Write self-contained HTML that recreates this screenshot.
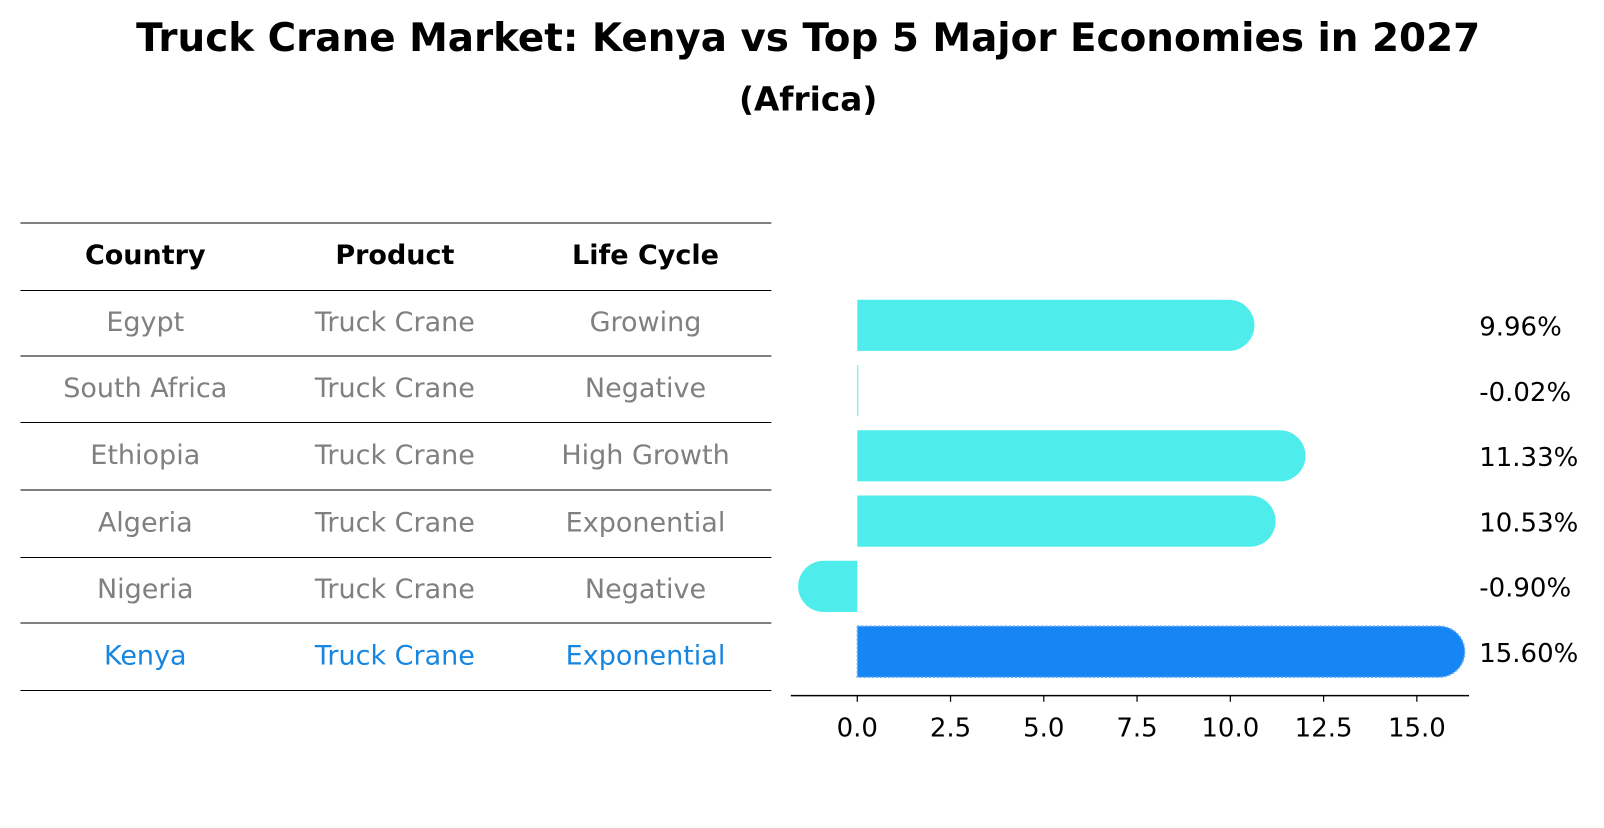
<!DOCTYPE html>
<html><head><meta charset="utf-8"><style>
body{margin:0;background:#fff}
svg text{font-family:"DejaVu Sans","Liberation Sans",sans-serif}
</style></head><body>
<svg width="1604" height="823" viewBox="0 0 1604 823" xmlns="http://www.w3.org/2000/svg">
<g transform="scale(1.023)">
<text x="790" y="50" text-anchor="middle" font-size="38" font-weight="bold">Truck Crane Market: Kenya vs Top 5 Major Economies in 2027</text>
<text x="790" y="108" text-anchor="middle" font-size="32" font-weight="bold">(Africa)</text>
<g id="table"></g>
<g id="bars"></g>
</g>
</svg>
<script>
const countries=["Egypt","South Africa","Ethiopia","Algeria","Nigeria","Kenya"];
const products=["Truck Crane","Truck Crane","Truck Crane","Truck Crane","Truck Crane","Truck Crane"];
const lifeCycles=["Growing","Negative","High Growth","Exponential","Negative","Exponential"];
const values=[9.96,-0.02,11.33,10.53,-0.90,15.60];
const valueLabels=["9.96%","-0.02%","11.33%","10.53%","-0.90%","15.60%"];
const ticks=[0,2.5,5,7.5,10,12.5,15];
const tickLabels=["0.0","2.5","5.0","7.5","10.0","12.5","15.0"];

const NS="http://www.w3.org/2000/svg";
function mk(tag,attrs,parent,text){const e=document.createElementNS(NS,tag);for(const k in attrs)e.setAttribute(k,attrs[k]);if(text!==undefined)e.textContent=text;parent.appendChild(e);return e;}
const tbl=document.getElementById('table');
const lineYs=[218,284,348,413,479,545,609,675];
lineYs.forEach((y,i)=>{const l=mk('line',{x1:20,x2:754,y1:y,y2:y,stroke:'#000','stroke-width':1},tbl);

});
const colX=[142,386,631];
["Country","Product","Life Cycle"].forEach((h,i)=>{const t=mk('text',{x:colX[i],y:258,'text-anchor':'middle','font-size':26.4,'font-weight':'bold'},tbl,h);

});
countries.forEach((c,r)=>{const y=(lineYs[r+1]+lineYs[r+2])/2+7.5;const col=c==="Kenya"?'#1786e0':'#808080';
[c,products[r],lifeCycles[r]].forEach((v,i)=>{const t=mk('text',{x:colX[i],y:y,'text-anchor':'middle','font-size':26.4,fill:col},tbl,v);

});});

const g=document.getElementById('bars');
const x0=838,scale=(1385-838)/15;
const X=v=>x0+v*scale;
const yC=i=>318+i*63.8;
const bh=50;
const ax=mk('line',{x1:773,x2:1436,y1:680,y2:680,stroke:'#000','stroke-width':1.5},g);


ticks.forEach((t,i)=>{const tk=mk('line',{x1:X(t),x2:X(t),y1:680,y2:686,stroke:'#000','stroke-width':1.2},g);


const tl=mk('text',{x:X(t),y:720,'text-anchor':'middle','font-size':25.4},g,tickLabels[i]);

});
values.forEach((v,i)=>{const y=yC(i),r=bh/2,col=countries[i]==="Kenya"?'#1786f5':'#4eedeb';
let d;
if(Math.abs(v*scale)<1){d=`M${x0} ${y-r}h1v${bh}h-1z`;}
else if(v>=0){const xe=X(v);d=`M${x0} ${y-r}H${xe}A${r} ${r} 0 0 1 ${xe} ${y+r}H${x0}Z`;}
else{const xe=X(v);d=`M${x0} ${y-r}H${xe}A${r} ${r} 0 0 0 ${xe} ${y+r}H${x0}Z`;}
const p=mk('path',{d:d,fill:col},g);
if(countries[i]==="Kenya"){p.setAttribute('stroke','#6fb0f0');p.setAttribute('stroke-dasharray','2 2');p.setAttribute('stroke-width','1.5');}


const lb=mk('text',{x:1446,y:y+10,'font-size':25.4},g,valueLabels[i]);

});
</script>
</body></html>
